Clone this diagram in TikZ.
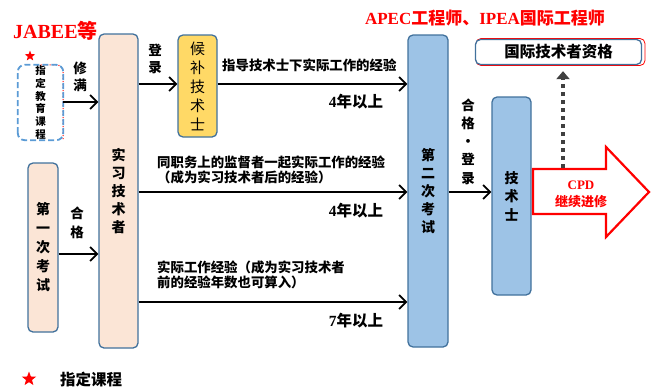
\documentclass[tikz,border=0pt]{standalone}
\usepackage{fontspec}
\setmainfont{Noto Sans CJK SC}
\newfontfamily\ser{Liberation Serif}
\usetikzlibrary{arrows.meta,shapes.geometric}
\definecolor{peach}{HTML}{FBE5D6}
\definecolor{gold}{HTML}{FFD966}
\definecolor{lblue}{HTML}{9DC3E6}
\definecolor{bordc}{HTML}{41719C}
\definecolor{dblue}{HTML}{5B9BD5}
\definecolor{dgray}{HTML}{404040}
\begin{document}
\begin{tikzpicture}[x=1pt,y=-1pt,
  box/.style={draw=bordc, line width=1.3pt, rounded corners=5pt, inner sep=0pt, align=center},
  vbig/.style={font=\bfseries\fontsize{14}{18}\selectfont},
  lab/.style={font=\bfseries\fontsize{13.5}{17}\selectfont, align=center, inner sep=0pt},
  note/.style={font=\bfseries\fontsize{13.4}{15}\selectfont, align=left, inner sep=0pt, anchor=west},
  yrs/.style={font=\bfseries\fontsize{15.5}{17}\selectfont, inner sep=0pt},
  arr/.style={line width=1.8pt, -{Straight Barb[length=7pt,width=14pt]}},
  redstar/.style={star, star points=5, star point ratio=2.4, fill=red, inner sep=0pt}]
\useasboundingbox (0,0) rectangle (652,388);

% titles
\node[red, font=\bfseries\fontsize{20}{22}\selectfont, anchor=west, inner sep=0pt] (jabee) at (13,31) {{\ser JABEE}等};
\node[red, font=\bfseries\fontsize{17}{19}\selectfont, inner sep=0pt] (apec) at (485,18) {{\ser APEC}工程师、{\ser IPEA}国际工程师};

% boxes
\node[box, fill=peach, vbig, minimum width=39pt, minimum height=314pt] (trainee) at (118.5,191) {实\\习\\技\\术\\者};
\node[box, fill=peach, font=\bfseries\fontsize{14}{19}\selectfont, minimum width=30pt, minimum height=169pt] (exam1) at (43,247.5) {第\\一\\次\\考\\试};
\node[box, fill=gold, font=\fontsize{15}{19}\selectfont, minimum width=39pt, minimum height=102pt] (cand) at (197.5,86) {候\\补\\技\\术\\士};
\node[box, fill=lblue, vbig, minimum width=40pt, minimum height=312pt] (exam2) at (428,191) {第\\二\\次\\考\\试};
\node[box, fill=lblue, font=\bfseries\fontsize{14}{18.5}\selectfont, minimum width=39pt, minimum height=198pt] (eng) at (511.5,196) {技\\术\\士};
\draw[red, line width=0.8pt, rounded corners=5pt] (476,38.5) rectangle (645,65.5);
\node[box, fill=white, font=\bfseries\fontsize{15.5}{17}\selectfont, minimum width=166pt, minimum height=25pt] (intl) at (558.5,52) {国际技术者资格};

% dashed designated course box
\node[minimum width=45pt, minimum height=75pt, inner sep=0pt, align=center, font=\bfseries\fontsize{10.5}{12.8}\selectfont] (course) at (40.5,102.5) {指\\定\\教\\育\\课\\程};
\draw[red, dotted, line width=1pt, rounded corners=7pt] (course.north) -| (course.south east);
\draw[dblue, line width=1.8pt, dash pattern=on 6pt off 3pt, rounded corners=7pt] (course.south west) rectangle (course.north east);
\node[redstar, minimum size=11pt] (star1) at (30,56) {};

% left arrows
\coordinate (ya) at (0,102);
\coordinate (yb) at (0,254);
\coordinate (yc) at (0,84);
\coordinate (y1) at (0,84);
\coordinate (y2) at (0,192);
\coordinate (y3) at (0,302);
\draw[arr] (course.east |- ya) -- (trainee.west |- ya);
\node[lab] (xiuman) at (80,76.5) {修\\满};
\draw[arr] (exam1.east |- yb) -- (trainee.west |- yb);
\node[lab, font=\bfseries\fontsize{13.5}{19}\selectfont] (hege1) at (77,222.5) {合\\格};
\draw[arr] (trainee.east |- yc) -- (cand.west |- yc);
\node[lab] (denglu) at (155,58.5) {登\\录};

% long arrows
\draw[arr] (cand.east |- y1) -- (exam2.west |- y1);
\node[note] (n1) at (222,65) {指导技术士下实际工作的经验};
\node[yrs] (t1) at (356,102) {{\ser 4}年以上};
\draw[arr] (trainee.east |- y2) -- (exam2.west |- y2);
\node[note] (n2) at (157,170) {同职务上的监督者一起实际工作的经验\\（成为实习技术者后的经验）};
\node[yrs] (t2) at (356,211) {{\ser 4}年以上};
\draw[arr] (trainee.east |- y3) -- (exam2.west |- y3);
\node[note] (n3) at (157,275) {实际工作经验（成为实习技术者\\前的经验年数也可算入）};
\node[yrs] (t3) at (356,321) {{\ser 7}年以上};

% pass & register
\draw[arr] (exam2.east |- y2) -- (eng.west |- y2);
\node[lab, font=\bfseries\fontsize{13.5}{18.25}\selectfont] (hege2) at (468,141.5) {合\\格\\·\\登\\录};

% CPD arrow
\draw[red, line width=2.2pt, fill=white, line join=miter] (533,169) -- (606,169) -- (606,147) -- (649,192) -- (606,237) -- (606,214) -- (533,214) -- cycle;
\node[red, font=\bfseries\fontsize{13}{15}\selectfont, inner sep=0pt] (cpd) at (581,185) {\ser CPD};
\node[red, font=\bfseries\fontsize{13}{15}\selectfont, inner sep=0pt] (cont) at (581,202) {继续进修};

% dotted arrow
\coordinate (dbot) at (563,168);
\draw[dgray, line width=3.5pt, dash pattern=on 4pt off 4pt, shorten >=6pt, -{Triangle[length=8pt,width=13pt]}] (dbot) -- (dbot |- intl.south);

% legend
\node[redstar, minimum size=15pt] (star2) at (29,379) {};
\node[font=\bfseries\fontsize{15.5}{17}\selectfont, anchor=west, inner sep=0pt] (legend) at (60,380) {指定课程};
\end{tikzpicture}
\end{document}
